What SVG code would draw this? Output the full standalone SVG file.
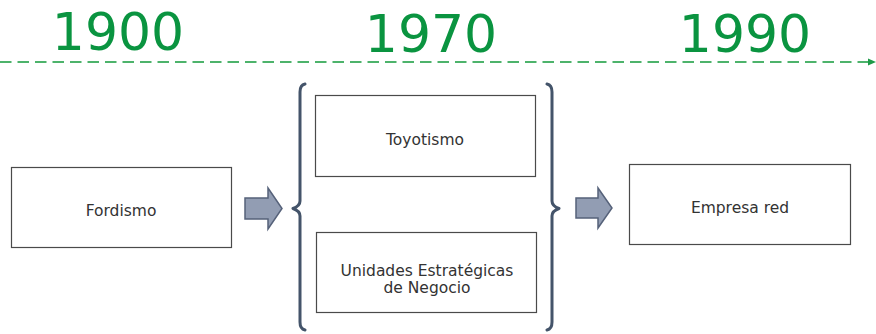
<svg xmlns="http://www.w3.org/2000/svg" width="876" height="334" viewBox="0 0 876 334">
<style>
.year{font-family:"DejaVu Sans",Verdana,sans-serif;font-size:52px;fill:#0a9440;text-anchor:middle}
.box{fill:#ffffff;stroke:#4a4a4a;stroke-width:1.2}
.lbl{font-family:"DejaVu Sans",Verdana,sans-serif;font-size:15.5px;fill:#333333;text-anchor:middle}
.arr{fill:#929db3;stroke:#56627a;stroke-width:1.5;stroke-linejoin:miter}
.brace{fill:none;stroke:#44546a;stroke-width:3;stroke-linecap:round;stroke-linejoin:round}
</style>
<defs>
<marker id="tip" markerWidth="8" markerHeight="8" refX="7" refY="4" orient="auto" markerUnits="userSpaceOnUse">
<path d="M0,0.5 L8,4 L0,7.5 Z" fill="#1e9a48"/>
</marker>
</defs>
<g id="timeline">
<line x1="0" y1="62" x2="875" y2="62" stroke="#4db36b" stroke-width="2" stroke-dasharray="11.5,6" marker-end="url(#tip)"/>
<text class="year" x="118" y="50">1900</text>
<text class="year" x="431" y="52">1970</text>
<text class="year" x="745" y="52">1990</text>
</g>
<g id="fordismo">
<rect class="box" x="11.5" y="167.5" width="220" height="80"/>
<text class="lbl" x="121" y="216">Fordismo</text>
</g>
<g id="toyotismo">
<rect class="box" x="315.5" y="95.5" width="220" height="81"/>
<text class="lbl" x="425" y="145">Toyotismo</text>
</g>
<g id="uen">
<rect class="box" x="316.5" y="232.5" width="220" height="80"/>
<text class="lbl" x="427" y="275.5">Unidades Estratégicas</text>
<text class="lbl" x="427" y="293">de Negocio</text>
</g>
<g id="empresa-red">
<rect class="box" x="629.5" y="164.5" width="221" height="80"/>
<text class="lbl" x="740" y="213">Empresa red</text>
</g>
<g id="connectors">
<path class="arr" d="M245,198 L268,198 L268,188 L282,208.5 L268,229 L268,219 L245,219 Z"/>
<path class="arr" d="M576,198 L598,198 L598,188 L612,208 L598,228 L598,218 L576,218 Z"/>
<path class="brace" d="M305,84 Q300,85 300,92 L300,201 Q300,206 293,208.5 Q300,211 300,216 L300,322 Q300,329 305,330"/>
<path class="brace" d="M547,84 Q552,85 552,92 L552,201 Q552,206 559,208.5 Q552,211 552,216 L552,322 Q552,329 547,330"/>
</g>
</svg>
